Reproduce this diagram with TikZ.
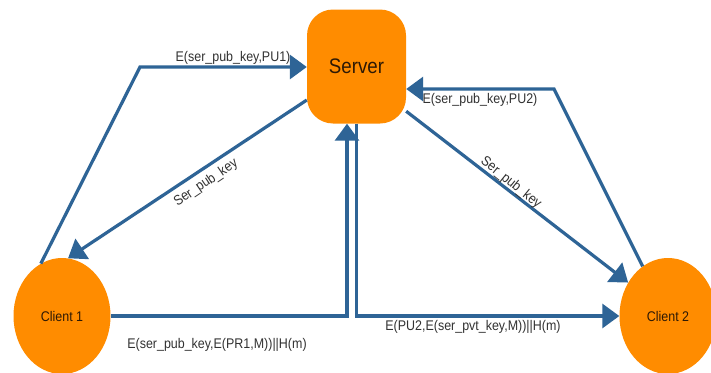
\documentclass[tikz,border=0pt]{standalone}
\usepackage{fontspec}
\setmainfont{Liberation Sans}
\usetikzlibrary{arrows.meta,shapes.geometric,calc}
\definecolor{nodeorange}{RGB}{255,140,0}
\definecolor{flowblue}{RGB}{46,100,150}
\definecolor{labelgray}{RGB}{50,50,50}
\definecolor{nodetext}{RGB}{45,25,5}
% slightly condensed lettering
\newcommand\narrowtext[1]{\scalebox{0.89}[1]{#1}}

\begin{document}
\begin{tikzpicture}[x=1pt,y=-1pt,
  flow/.style={draw=flowblue, line width=3.2pt, line join=miter,
    -{Triangle[length=17pt,width=24pt]}},
  msg/.style={font=\fontsize{14}{16}\selectfont, text=labelgray, inner sep=0pt},
  server/.style={fill=nodeorange, rounded corners=26pt, minimum width=99pt,
    minimum height=114pt, inner sep=0pt, font=\fontsize{21}{24}\selectfont,
    text=nodetext},
  client/.style={ellipse, fill=nodeorange, minimum width=97pt,
    minimum height=116pt, inner sep=0pt, font=\fontsize{14}{16}\selectfont,
    text=nodetext}]

\useasboundingbox (0,0) rectangle (711,372);
\fill[white] (0,0) rectangle (711,372);

% parties
\node[server] (srv) at (356.5,66.5) {\narrowtext{Server}};
\node[client] (c1) at (62,316) {\narrowtext{Client 1}};
\node[client] (c2) at (668,316) {\narrowtext{Client 2}};

% bend points
\coordinate (k1) at (140,67);
\coordinate (k3) at (347,316);
\coordinate (k6) at (554,89);

% messages
\draw[flow] (c1.112) -- (k1) -- (k1 -| srv.west);
\draw[flow] (srv.214) -- (c1.84);
\draw[flow] (c1.east) -- (k3) -- (k3 |- srv.south);
\draw[flow] (srv.south) |- (c2.west);
\draw[flow] (srv.318) -- (c2.140);
\draw[flow] (c2.117) -- (k6) -- (k6 -| srv.east);

% message labels
\node[msg] (l1) at (233,58) {\narrowtext{E(ser\_pub\_key,PU1)}};
\node[msg, rotate=34] (l2) at (206,183) {\narrowtext{Ser\_pub\_key}};
\node[msg] (l3) at (217,345) {\narrowtext{E(ser\_pub\_key,E(PR1,M))||H(m)}};
\node[msg] (l4) at (473,327) {\narrowtext{E(PU2,E(ser\_pvt\_key,M))||H(m)}};
\node[msg, rotate=-39] (l5) at (511,183) {\narrowtext{Ser\_pub\_key}};
\node[msg] (l6) at (480,100) {\narrowtext{E(ser\_pub\_key,PU2)}};
\end{tikzpicture}
\end{document}
